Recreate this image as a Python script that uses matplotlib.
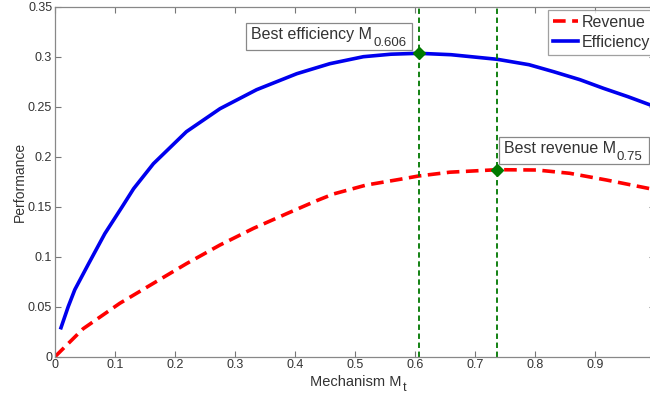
import matplotlib
matplotlib.use("Agg")
import matplotlib.pyplot as plt
from matplotlib.ticker import FuncFormatter, MultipleLocator
from matplotlib.transforms import offset_copy, IdentityTransform, Bbox
from matplotlib.patches import Rectangle

plt.rcParams['font.family'] = ['Liberation Sans', 'DejaVu Sans']
plt.rcParams['mathtext.fontset'] = 'custom'
plt.rcParams['mathtext.rm'] = 'Liberation Sans'
plt.rcParams['mathtext.it'] = 'Liberation Sans'
plt.rcParams['mathtext.default'] = 'regular'

# Data
x_eff = [0.01, 0.022, 0.033, 0.056, 0.083, 0.112, 0.131, 0.164, 0.219, 0.275, 0.336,
         0.403, 0.458, 0.514, 0.56, 0.606, 0.66, 0.737, 0.79, 0.831, 0.875, 0.914,
         0.955, 1.0]
efficiency = [0.029, 0.050, 0.067, 0.093, 0.123, 0.150, 0.168, 0.193, 0.225, 0.248, 0.267,
              0.283, 0.293, 0.300, 0.3025, 0.3034, 0.302, 0.2974, 0.292, 0.285, 0.277,
              0.2684, 0.260, 0.250]
x_rev = [0.0, 0.047, 0.108, 0.164, 0.219, 0.275, 0.331, 0.386, 0.436, 0.464, 0.519,
         0.575, 0.606, 0.658, 0.737, 0.803, 0.858, 0.919, 1.0]
revenue = [0.0, 0.028, 0.0534, 0.0734, 0.093, 0.1117, 0.1284, 0.143, 0.156, 0.1627, 0.1717,
           0.1774, 0.1807, 0.1845, 0.1870, 0.1867, 0.1834, 0.1767, 0.167]
best_eff = (0.606, 0.3034)
best_rev = (0.737, 0.1870)
eff_main, eff_sub = 'Best efficiency M', '0.606'
rev_main, rev_sub = 'Best revenue M', '0.75'
xlabel_main, xlabel_sub = 'Mechanism M', 't'
eff_text_pos = (0.327, 0.3174)
rev_text_pos = (0.748, 0.2034)

fig = plt.figure(figsize=(6.5, 3.97), dpi=100)
ax = fig.add_axes([55/650, 40.3/397, 600/650, 350/397])

txtc = '#333333'
ax.plot(x_rev, revenue, color='#ff0000', lw=2.6, ls=(0, (3.5, 1.8)), label='Revenue')
ax.plot(x_eff, efficiency, color='#0000ee', lw=2.6, label='Efficiency')
for xv in (best_eff[0], best_rev[0]):
    ax.axvline(xv, color='#007700', lw=1.3, ls=(0, (3, 2)))
ax.plot([best_eff[0]], [best_eff[1]], 'D', color='#007a00', ms=6.5)
ax.plot([best_rev[0]], [best_rev[1]], 'D', color='#007a00', ms=6.5)

ax.set_xlim(0, 1)
ax.set_ylim(0, 0.35)
ax.xaxis.set_major_locator(MultipleLocator(0.1))
ax.yaxis.set_major_locator(MultipleLocator(0.05))
ax.xaxis.set_major_formatter(FuncFormatter(lambda v, p: '' if v > 0.95 else '%g' % round(v, 3)))
ax.yaxis.set_major_formatter(FuncFormatter(lambda v, p: '%g' % round(v, 3)))
ax.tick_params(direction='in', top=True, right=True, length=4, width=0.8,
               color='#777777', labelsize=9, labelcolor=txtc, pad=2)
for s in ax.spines.values():
    s.set_color('#888888')
    s.set_linewidth(0.9)

ax.set_ylabel('Performance', fontsize=10, color=txtc, labelpad=1)

leg = ax.legend(loc='upper left', bbox_to_anchor=(548/650, 1 - 10/397),
                bbox_transform=fig.transFigure, fontsize=11.5, frameon=True,
                fancybox=False, handlelength=1.6, handletextpad=0.2,
                borderpad=0.3, labelspacing=0.32, borderaxespad=0)
leg.get_frame().set_edgecolor('#888888')
leg.get_frame().set_linewidth(0.9)
leg.set_zorder(10)
for t in leg.get_texts():
    t.set_color(txtc)

fig.canvas.draw()
renderer = fig.canvas.get_renderer()


def sub_text(x, y, main, sub, size, subsize, drop, transform, ha='left'):
    t1 = ax.text(x, y, main, ha=ha, va='baseline', fontsize=size, color=txtc,
                 zorder=7, transform=transform, clip_on=False)
    bb1 = t1.get_window_extent(renderer)
    base = transform.transform((x, y))
    dx = bb1.x1 - base[0] + 1
    tr = offset_copy(transform, fig=fig, x=dx, y=-drop, units='dots')
    t2 = ax.text(x, y, sub, ha='left', va='baseline', fontsize=subsize,
                 color=txtc, transform=tr, zorder=7, clip_on=False)
    bb2 = t2.get_window_extent(renderer)
    return t1, t2, Bbox.union([bb1, bb2])


def boxed_label(pos, main, sub):
    _, _, bb = sub_text(pos[0], pos[1], main, sub, 11.5, 9.5, 7, ax.transData)
    rect = Rectangle((bb.x0 - 5, bb.y0 - 1), bb.width + 11, bb.height + 5,
                     transform=IdentityTransform(), fc='white', ec='#888888',
                     lw=0.9, zorder=6, clip_on=False)
    ax.add_artist(rect)


boxed_label(eff_text_pos, eff_main, eff_sub)
boxed_label(rev_text_pos, rev_main, rev_sub)

# x-axis label with a MATLAB-like subscript
sub_text(0.425, -0.083, xlabel_main, xlabel_sub, 10.5, 9, 5, ax.transAxes)

fig.savefig('out.png', dpi=100)
